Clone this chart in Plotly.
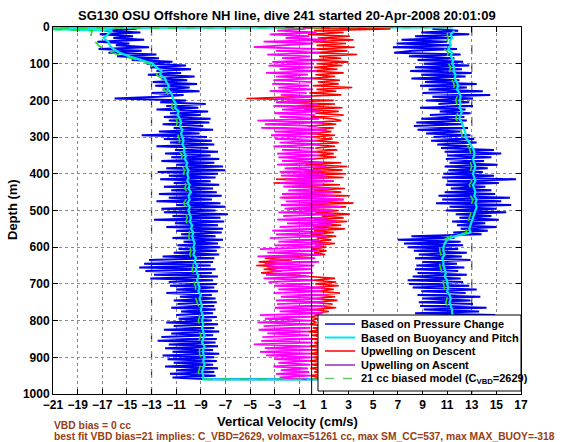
import plotly.graph_objects as go

# ---------------- data ----------------
DEPTH_5 = list(range(5, 965, 5))      # 5 m sampling, 5..960 m
DEPTH_10 = list(range(10, 970, 10))   # 10 m sampling, 10..960 m
SURFACE_DEPTH = [1, 3]

# Vertical velocity based on pressure change (cm/s), descent (5..960 m)
blue_descent = [
    -14.2, -16.8, -13.9, -17.2, -14.5, -16.1, -13.6, -17.4, -14.8, -15.9,
    -13.2, -17.3, -13.8, -16.5, -12.6, -15.8, -12.4, -14.6, -11.3, -13.4,
    -10.2, -13.1, -9.8, -12.6, -10.6, -13.3, -9.5, -12.2, -10.1, -12.9,
    -9.3, -12.7, -9.9, -12.1, -9.1, -13.0, -10.4, -12.4, -16.0, -10.2,
    -12.3, -8.6, -11.8, -9.2, -12.6, -8.4, -11.5, -9.0, -12.0, -8.2,
    -11.6, -8.3, -12.1, -8.8, -11.2, -8.0, -12.4, -9.1, -13.8, -8.5,
    -12.0, -8.1, -11.5, -7.9, -12.6, -8.4, -11.1, -7.6, -11.9, -8.2,
    -11.4, -7.5, -12.2, -7.9, -11.0, -7.2, -11.8, -7.0, -12.5, -7.6,
    -11.6, -7.8, -12.3, -8.2, -11.2, -7.5, -12.0, -8.0, -11.4, -7.7,
    -12.4, -7.3, -11.6, -8.1, -12.6, -7.4, -11.0, -7.0, -12.2, -7.8,
    -12.0, -6.8, -11.3, -7.4, -12.8, -7.1, -11.1, -7.6, -11.8, -7.2,
    -11.0, -7.3, -10.6, -7.8, -11.3, -7.2, -10.4, -7.6, -10.9, -7.4,
    -10.8, -7.7, -11.2, -7.5, -12.1, -7.9, -13.2, -8.0, -13.6, -8.2,
    -14.0, -7.8, -13.5, -8.1, -12.8, -7.6, -13.1, -8.0, -11.6, -7.7,
    -11.5, -7.9, -11.0, -7.6, -11.8, -8.1, -10.7, -7.8, -11.2, -7.7,
    -10.9, -7.9, -11.4, -7.8, -10.6, -8.0, -11.0, -7.7, -10.8, -8.1,
    -11.8, -7.6, -11.2, -7.9, -12.0, -7.5, -11.4, -8.0, -12.2, -7.7,
    -12.5, -7.8, -11.6, -7.6, -11.9, -8.0, -11.3, -7.5, -12.1, -7.9,
    -11.7, -7.7, -11.2, -8.0, -11.9, -7.6, -11.0, -7.9, -11.5, -7.8,
    -11.3, -8.4,
]
# same, ascent (listed by depth 5..960 m)
blue_ascent = [
    9.8, 11.9, 8.9, 12.8, 8.4, 11.4, 7.3, 11.0, 6.9, 11.3,
    6.6, 11.8, 8.2, 6.7, 12.1, 7.9, 11.6, 8.6, 12.3, 9.1,
    12.8, 8.4, 12.2, 8.0, 13.0, 8.9, 12.5, 8.1, 12.0, 9.2,
    13.4, 8.8, 12.6, 9.5, 13.9, 9.0, 14.5, 9.8, 13.1, 9.3,
    12.8, 10.3, 13.1, 8.8, 12.5, 10.4, 12.9, 9.6, 12.4, 8.9,
    12.6, 8.5, 12.2, 8.3, 12.7, 8.6, 12.1, 9.3, 12.9, 9.9,
    13.2, 9.7, 13.4, 10.2, 12.9, 10.5, 14.8, 10.8, 15.4, 11.0,
    14.6, 10.9, 14.0, 11.2, 15.1, 10.8, 14.3, 11.1, 13.9, 10.7,
    14.8, 10.6, 16.6, 11.0, 15.2, 10.9, 14.1, 11.3, 14.6, 10.8,
    14.9, 10.3, 16.1, 10.6, 15.4, 10.1, 16.2, 11.2, 15.0, 10.9,
    15.8, 11.7, 14.6, 12.0, 15.2, 11.4, 14.1, 11.8, 15.0, 12.1,
    14.3, 11.5, 13.8, 8.1, 11.6, 7.0, 12.1, 7.5, 12.3, 7.8,
    11.9, 8.3, 12.6, 8.7, 12.2, 8.4, 12.9, 9.0, 11.8, 8.5,
    12.4, 8.4, 11.9, 8.6, 12.6, 8.2, 12.1, 7.8, 12.3, 7.9,
    12.8, 8.2, 13.4, 8.9, 12.5, 8.6, 13.7, 9.0, 12.9, 8.7,
    13.1, 8.8, 14.2, 9.1, 13.6, 8.4, 14.9, 9.0, 13.8, 9.2,
    14.0, 9.1, 13.5, 9.4, 13.9, 8.9, 13.2, 9.3, 13.6, 9.0,
    13.4, 9.2, 13.8, 9.5, 13.1, 9.0, 13.7, 9.4, 13.3, 9.1,
    13.5, 9.3, 13.0, 9.6, 13.4, 9.2, 13.8, 9.5, 13.2, 9.4,
    12.9, 10.1,
]

# Based on buoyancy and pitch (10..960 m)
cyan_surface = [11.5, -25.0]
cyan_descent = [
    -16.2, -16.6, -16.9, -16.5, -16.4, -16.1, -15.6, -14.8, -13.8, -12.9,
    -12.6, -12.2, -12.3, -11.9, -11.8, -11.6, -11.7, -11.4, -11.3, -11.2,
    -11.0, -11.1, -10.8, -10.9, -10.7, -10.6, -10.7, -10.5, -10.6, -10.5,
    -10.4, -10.5, -10.3, -10.4, -10.2, -10.3, -10.1, -10.2, -10.0, -10.1,
    -10.0, -10.1, -9.9, -10.0, -9.8, -10.0, -9.9, -10.1, -9.9, -10.0,
    -9.9, -9.8, -9.9, -9.7, -9.8, -9.6, -9.7, -9.6, -9.5, -9.6,
    -9.5, -9.6, -9.4, -9.5, -9.3, -9.4, -9.3, -9.2, -9.3, -9.2,
    -9.1, -9.2, -9.0, -9.1, -9.0, -8.9, -9.0, -8.9, -8.8, -8.9,
    -8.8, -8.9, -8.8, -8.7, -8.8, -8.9, -8.7, -8.8, -8.8, -8.7,
    -8.8, -8.7, -8.8, -8.9, -8.8, -8.8,
]
cyan_ascent = [
    11.6, 11.3, 11.4, 11.2, 11.3, 11.1, 11.4, 11.3, 11.5, 11.4,
    11.6, 11.5, 11.7, 11.6, 11.8, 11.9, 11.8, 12.0, 12.1, 12.0,
    12.1, 12.0, 12.2, 12.1, 12.0, 12.2, 12.3, 12.4, 12.5, 12.5,
    12.7, 12.9, 13.1, 13.2, 13.2, 13.1, 13.2, 13.3, 13.2, 13.1,
    13.2, 13.3, 13.1, 13.2, 13.3, 13.2, 13.4, 13.3, 13.4, 13.3,
    13.2, 13.1, 13.0, 12.9, 12.8, 12.9, 11.6, 11.0, 10.8, 10.7,
    10.7, 10.8, 10.6, 10.7, 10.7, 10.8, 10.9, 10.8, 11.0, 11.0,
    11.1, 11.0, 11.2, 11.3, 11.2, 11.3, 11.4, 11.4, 11.5, 11.5,
    11.5, 11.6, 11.5, 11.6, 11.6, 11.7, 11.6, 11.7, 11.7, 11.6,
    11.7, 11.6, 11.7, 11.8, 11.7, 11.6,
]

# 21 cc biased model (10..960 m)
green_surface = [11.0, -24.0]
green_descent = [
    -17.8, -17.9, -18.0, -17.6, -17.3, -16.9, -16.2, -15.2, -14.1, -13.2,
    -12.9, -12.5, -12.6, -12.2, -12.1, -11.9, -12.0, -11.7, -11.6, -11.5,
    -11.3, -11.4, -11.1, -11.2, -11.0, -10.9, -11.0, -10.8, -10.9, -10.8,
    -10.7, -10.8, -10.6, -10.7, -10.5, -10.6, -10.4, -10.5, -10.3, -10.4,
    -10.3, -10.4, -10.2, -10.3, -10.1, -10.3, -10.2, -10.4, -10.2, -10.3,
    -10.2, -10.1, -10.2, -10.0, -10.1, -9.9, -10.0, -9.9, -9.8, -9.9,
    -9.8, -9.9, -9.7, -9.8, -9.6, -9.7, -9.6, -9.5, -9.6, -9.5,
    -9.4, -9.5, -9.3, -9.4, -9.3, -9.2, -9.3, -9.2, -9.1, -9.2,
    -9.1, -9.2, -9.1, -9.0, -9.1, -9.2, -9.0, -9.1, -9.1, -9.0,
    -9.1, -9.0, -9.1, -9.2, -9.1, -9.1,
]
green_ascent = [
    11.2, 11.0, 11.1, 10.9, 11.0, 10.8, 11.1, 11.0, 11.2, 11.1,
    11.3, 11.2, 11.4, 11.3, 11.5, 11.6, 11.5, 11.7, 11.8, 11.7,
    11.8, 11.7, 11.9, 11.8, 11.7, 11.9, 12.0, 12.1, 12.2, 12.2,
    12.4, 12.6, 12.8, 12.9, 12.9, 12.8, 12.9, 13.0, 12.9, 12.8,
    12.9, 13.0, 12.8, 12.9, 13.0, 12.9, 13.1, 13.0, 13.1, 13.0,
    12.9, 12.8, 12.7, 12.6, 12.5, 12.6, 11.3, 10.7, 10.5, 10.4,
    10.4, 10.5, 10.3, 10.4, 10.4, 10.5, 10.6, 10.5, 10.7, 10.7,
    10.8, 10.7, 10.9, 11.0, 10.9, 11.0, 11.1, 11.1, 11.2, 11.2,
    11.2, 11.3, 11.2, 11.3, 11.3, 11.4, 11.3, 11.4, 11.4, 11.3,
    11.4, 11.3, 11.4, 11.5, 11.4, 11.3,
]

# Upwelling on descent (5..960 m)
red_surface = [-2.8]
red_descent = [
    6.4, 0.2, 2.6, -0.3, 3.1, 0.5, 3.4, 0.1, 2.8, 0.4,
    3.5, 0.3, 2.9, 0.0, 3.7, 0.6, 2.4, -0.1, 3.0, 0.4,
    2.5, 0.2, 2.1, -0.2, 2.6, 0.3, 1.9, 0.0, 2.3, 0.5,
    2.2, 0.1, 3.3, 0.4, 2.0, -0.2, 2.4, -1.5, -5.3, 1.8,
    -2.4, 1.9, -1.2, 2.5, -0.6, 2.2, 0.3, 2.6, 0.0, 1.7,
    2.4, 0.2, 2.0, -0.3, 1.8, 0.1, 1.6, -0.4, 1.9, 0.0,
    1.7, 0.2, 2.2, -0.1, 1.9, 0.3, 2.1, 0.0, 1.8, 0.4,
    2.0, -0.2, -2.2, 2.4, -0.5, 2.9, 0.1, 2.5, -0.6, 2.8,
    -0.7, 2.6, -2.9, 1.8, -3.1, 2.3, -1.6, 2.7, 0.2, 2.4,
    -1.8, 3.1, -2.4, 2.6, 0.0, 3.4, -1.2, 2.8, -2.0, 2.2,
    0.3, 3.1, 0.8, 2.6, 0.2, 2.9, 0.5, 2.4, 0.1, 2.7,
    0.2, 1.8, -0.1, 2.0, 0.4, 1.6, 0.0, 1.9, 0.3, 1.2,
    0.0, 1.2, 0.2, 1.1, -1.9, -3.8, -1.6, -4.3, -2.1, -4.5,
    -1.8, -3.9, -2.4, -4.1, -1.5, -0.2, 1.9, 0.1, 2.0, 0.3,
    2.2, 0.2, 1.8, 0.4, 2.3, 0.1, 1.9, 0.3, 2.1, 0.0,
    1.7, 0.2, 2.0, 0.0, 1.4, 0.1, 0.6, -0.1, 0.5, 0.0,
    0.4, -0.2, 1.2, 0.1, 0.9, -0.3, 1.5, 0.0, 1.1, -0.1,
    1.3, 0.2, 0.8, -0.2, 1.4, 0.0, 1.0, -0.1, 1.2, 0.1,
    0.9, -0.2, 1.3, 0.0, 1.1, -0.1, 0.8, 0.2, 1.2, -0.1,
    0.6, 0.2,
]

# Upwelling on ascent (5..960 m)
magenta_ascent = [
    -0.5, -2.8, 0.4, -3.4, -0.2, -2.1, 1.2, -3.9, 0.1, -2.5,
    -4.7, 0.3, -2.9, 0.6, -3.6, -0.1, -2.4, 0.5, -3.2, 0.2,
    -3.5, 0.1, -2.6, 0.4, -3.7, -0.3, -2.9, 0.2, -3.1, 0.0,
    -3.2, -0.2, -2.7, 0.1, -3.4, -0.4, -2.5, 0.0, -3.0, -0.1,
    -2.9, 0.5, -3.1, 0.2, -2.4, 0.7, -3.0, 0.3, -2.6, 0.6,
    -4.4, 1.0, -3.8, 0.4, -4.1, 1.2, -3.0, 0.6, -3.3, 0.2,
    -3.0, 0.4, -2.6, 0.7, -3.1, 0.2, -2.4, 0.5, -2.8, 0.6,
    -2.7, 0.3, -2.4, 0.9, -2.8, 1.2, -2.2, 0.8, -2.6, 1.1,
    -2.5, 1.3, -2.1, 1.7, -2.6, 0.9, -2.3, 1.5, -1.9, 1.8,
    -2.4, 2.0, -2.6, 2.6, -2.1, 1.4, -2.5, 2.4, -2.2, 1.7,
    -2.7, 1.8, -2.3, 1.3, -2.8, 2.0, -2.0, 1.6, -2.6, 1.2,
    -3.2, 1.0, -2.9, 1.2, -3.4, 0.6, -2.7, 1.1, -3.0, 0.8,
    -4.2, 0.5, -3.6, 0.7, -4.4, 0.3, -3.4, 0.6, -3.8, 0.2,
    -3.6, 0.0, -3.2, 0.1, -3.7, -0.2, -3.9, 0.1, -3.5, -0.1,
    -3.0, 1.1, -2.7, 0.8, -3.1, 1.2, -2.5, 0.9, -2.9, 1.0,
    -2.8, 1.1, -3.0, 0.7, -2.6, 0.9, -4.2, -0.1, -3.8, 0.0,
    -4.4, -0.2, -3.9, -0.1, -4.3, -0.3, -3.6, -0.2, -4.0, 0.0,
    -4.1, 0.1, -4.7, -0.2, -3.8, 0.0, -4.2, -0.1, -3.7, 0.1,
    -3.0, -0.2, -2.7, -0.1, -3.1, -0.3, -2.5, -0.2, -2.9, -0.1,
    -2.6, -0.4,
]

ref_dashed = [-13, 13]
ref_solid = [0]

x_ticks = list(range(-21, 18, 2))
y_ticks = list(range(0, 1001, 100))

names = ["Based on Pressure Change", "Based on Buoyancy and Pitch",
         "Upwelling on Descent", "Upwelling on Ascent",
         "21 cc biased model (C<sub>VBD</sub>=2629)"]

title_text = "SG130 OSU Offshore NH line, dive 241 started 20-Apr-2008 20:01:09"
note1 = "VBD bias = 0 cc"
note2 = ("best fit VBD bias=21 implies: C_VBD=2629, volmax=51261 cc, "
         "max SM_CC=537, max MAX_BUOY=-318")

# ---------------- figure ----------------
BLUE = "#0000F0"
CYAN = "#00E8E8"
RED = "#FF0000"
MAGENTA = "#FF00FF"
GREEN = "#22DD22"
FONT = "Liberation Sans, Arial, sans-serif"
BROWN = "#963E14"

fig = go.Figure()

fig.add_trace(go.Scatter(
    x=blue_descent + blue_ascent[::-1], y=DEPTH_5 + DEPTH_5[::-1],
    mode="lines", line=dict(color=BLUE, width=2), name=names[0], showlegend=False))
fig.add_trace(go.Scatter(
    x=cyan_surface + cyan_descent + cyan_ascent[::-1],
    y=SURFACE_DEPTH + DEPTH_10 + DEPTH_10[::-1],
    mode="lines", line=dict(color=CYAN, width=2.2), name=names[1], showlegend=False))
fig.add_trace(go.Scatter(
    x=red_surface + red_descent, y=SURFACE_DEPTH[:1] + DEPTH_5,
    mode="lines", line=dict(color=RED, width=1.6), name=names[2], showlegend=False))
fig.add_trace(go.Scatter(
    x=magenta_ascent, y=DEPTH_5,
    mode="lines", line=dict(color=MAGENTA, width=1.8), name=names[3], showlegend=False))
fig.add_trace(go.Scatter(
    x=green_surface + green_descent + green_ascent[::-1],
    y=SURFACE_DEPTH + DEPTH_10 + DEPTH_10[::-1],
    mode="lines", line=dict(color=GREEN, width=1.6, dash="dash"), name=names[4],
    showlegend=False))

for xv in ref_dashed:
    fig.add_shape(type="line", xref="x", yref="y", x0=xv, x1=xv, y0=0, y1=1000,
                  line=dict(color="#333333", width=1.2, dash="dash"), layer="below")
for xv in ref_solid:
    fig.add_shape(type="line", xref="x", yref="y", x0=xv, x1=xv, y0=0, y1=1000,
                  line=dict(color="black", width=1), layer="above")

# plot-area pixel geometry
L, R, T, B = 53, 521, 27, 394
W, H = R - L, B - T


def px(xp):
    return (xp - L) / W


def py(yp):
    return (B - yp) / H


# custom legend (compact, as in the reference)
fig.add_shape(type="rect", xref="paper", yref="paper",
              x0=px(318), x1=px(521), y0=py(391), y1=py(315),
              fillcolor="white", line=dict(color="black", width=1), layer="above")
legend_rows = [324, 337.5, 351, 365, 378.5]
legend_styles = [dict(color=BLUE, width=1.5), dict(color=CYAN, width=2),
                 dict(color=RED, width=1.5), dict(color="#B45FC8", width=2),
                 dict(color="#66CC66", width=1.5, dash="dash")]
for row, st, nm in zip(legend_rows, legend_styles, names):
    fig.add_shape(type="line", xref="paper", yref="paper",
                  x0=px(325), x1=px(355), y0=py(row), y1=py(row),
                  line=st, layer="above")
    fig.add_annotation(xref="paper", yref="paper", x=px(359), y=py(row),
                       text=nm, showarrow=False, xanchor="left", yanchor="middle",
                       font=dict(family=FONT, size=11, color="black", weight="bold"))

fig.add_annotation(xref="paper", yref="paper", x=0.5, y=py(15.5), text=title_text,
                   showarrow=False, xanchor="center", yanchor="middle",
                   font=dict(family=FONT, size=13, color="black", weight="bold"))
fig.add_annotation(xref="paper", yref="paper", x=0.5, y=py(421), text="Vertical Velocity (cm/s)",
                   showarrow=False, xanchor="center", yanchor="middle",
                   font=dict(family=FONT, size=13, color="black", weight="bold"))
fig.add_annotation(xref="paper", yref="paper", x=px(12), y=py(210), text="Depth (m)",
                   showarrow=False, xanchor="center", yanchor="middle", textangle=-90,
                   font=dict(family=FONT, size=13, color="black", weight="bold"))
fig.add_annotation(xref="paper", yref="paper", x=px(52), y=py(425), text=note1,
                   showarrow=False, xanchor="left", yanchor="middle",
                   font=dict(family=FONT, size=10.3, color=BROWN, weight="bold"))
fig.add_annotation(xref="paper", yref="paper", x=px(52), y=py(436.5), text=note2,
                   showarrow=False, xanchor="left", yanchor="middle",
                   font=dict(family=FONT, size=10.3, color=BROWN, weight="bold"))

axis_common = dict(showline=True, linecolor="black", linewidth=1, mirror="allticks",
                   ticks="inside", ticklen=5, tickcolor="black", showgrid=True,
                   gridcolor="#8a8a8a", gridwidth=1, griddash="dot", zeroline=False,
                   tickfont=dict(family=FONT, size=12, color="black", weight="bold"))

fig.update_layout(
    width=568, height=442,
    margin=dict(l=L, r=568 - R, t=T, b=442 - B, pad=0),
    paper_bgcolor="white", plot_bgcolor="white",
    showlegend=False,
    xaxis=dict(range=[-21, 17], tickvals=x_ticks, **axis_common),
    yaxis=dict(range=[1000, 0], tickvals=y_ticks, **axis_common),
)

fig.write_html("out.html",
               config={"displayModeBar": False},
               post_script="document.body.style.margin='0';"
                           "document.body.style.overflow='hidden';")
